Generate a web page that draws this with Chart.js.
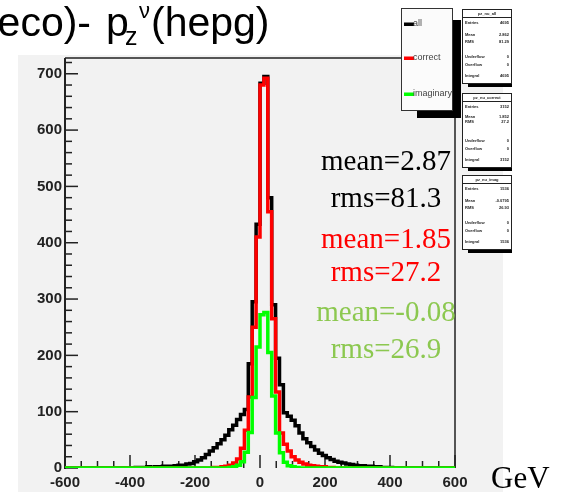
<!DOCTYPE html>
<html>
<head>
<meta charset="utf-8">
<script src="https://cdn.jsdelivr.net/npm/chart.js@4"></script>
<style>
  html, body { margin: 0; padding: 0; background: #fff; }
</style>
</head>
<body>
<canvas id="myChart" width="571" height="492"></canvas>
<script>
// histogram binning: 100 bins of 12 GeV from -600 to 600
const binLow = -600
const binWidth = 12

// counts per bin
const allCounts = [
  0, 0, 0, 0, 0, 0, 0, 0, 0, 0,
  0, 0, 0, 0, 0, 0, 0, 0, 1, 1,
  1, 2, 1, 2, 2, 3, 3, 3, 4, 5,
  5, 7, 8, 11, 14, 18, 24, 30, 36, 43,
  50, 58, 68, 76, 86, 95, 104, 185, 295, 433,
  683, 695, 480, 290, 195, 148, 98, 92, 85, 75,
  62, 52, 45, 38, 32, 26, 22, 18, 15, 12,
  10, 9, 7, 6, 5, 4, 4, 3, 3, 2,
  2, 1, 1, 1, 0, 0, 0, 0, 0, 0,
  0, 0, 0, 0, 0, 0, 0, 0, 0, 0
]
const correctCounts = [
  0, 0, 0, 0, 0, 0, 0, 0, 0, 0,
  0, 0, 0, 0, 0, 0, 0, 0, 0, 0,
  0, 0, 0, 0, 0, 0, 0, 0, 0, 0,
  0, 0, 0, 0, 0, 0, 0, 0, 1, 1,
  2, 3, 5, 9, 16, 35, 67, 126, 250, 410,
  680, 692, 455, 265, 135, 62, 42, 30, 20, 14,
  10, 7, 5, 4, 3, 2, 2, 1, 1, 0,
  0, 0, 0, 0, 0, 0, 0, 0, 0, 0,
  0, 0, 0, 0, 0, 0, 0, 0, 0, 0,
  0, 0, 0, 0, 0, 0, 0, 0, 0, 0
]
const imaginaryCounts = [
  0, 0, 0, 0, 0, 0, 0, 0, 0, 0,
  0, 0, 0, 0, 0, 0, 0, 0, 0, 0,
  0, 0, 0, 0, 0, 0, 0, 0, 0, 0,
  0, 0, 0, 0, 0, 0, 0, 0, 0, 0,
  0, 0, 1, 2, 5, 11, 28, 63, 125, 215,
  272, 276, 205, 128, 62, 27, 10, 4, 2, 1,
  0, 0, 0, 0, 0, 0, 0, 0, 0, 0,
  0, 0, 0, 0, 0, 0, 0, 0, 0, 0,
  0, 0, 0, 0, 0, 0, 0, 0, 0, 0,
  0, 0, 0, 0, 0, 0, 0, 0, 0, 0
]

const seriesNames = ['all', 'correct', 'imaginary']
const seriesColors = ['#000000', '#ff0000', '#00ff00']
const xTickValues = [-600, -400, -200, 0, 200, 400, 600]
const yTickValues = [0, 100, 200, 300, 400, 500, 600, 700]
const meanTexts = ['mean=2.87', 'mean=1.85', 'mean=-0.08']
const rmsTexts = ['rms=81.3', 'rms=27.2', 'rms=26.9']
const textColors = ['#000000', '#ff0000', '#8cc850']

// stat boxes (tiny in the picture)
const statLabels = ['Entries', 'Mean', 'RMS', 'Underflow', 'Overflow', 'Integral']
const statAll = ['4695', '2.862', '81.29', '0', '0', '4695']
const statCorrect = ['3152', '1.852', '27.2', '0', '0', '3152']
const statImaginary = ['1536', '-0.0795', '26.93', '0', '0', '1536']

function toSteps(counts) {
  const pts = counts.map((c, i) => ({ x: binLow + i * binWidth, y: c }))
  pts.push({ x: binLow + counts.length * binWidth, y: counts[counts.length - 1] })
  return pts
}

function histSet(i, counts, order) {
  return {
    label: seriesNames[i],
    data: toSteps(counts),
    borderColor: seriesColors[i],
    borderWidth: 3.5,
    stepped: true,
    pointRadius: 0,
    fill: false,
    borderJoinStyle: 'miter',
    borderCapStyle: 'butt',
    order: order
  }
}

function line(ctx, x1, y1, x2, y2) {
  ctx.beginPath(); ctx.moveTo(x1, y1); ctx.lineTo(x2, y2); ctx.stroke()
}

const rootLook = {
  id: 'rootLook',
  beforeDraw(chart) {
    const ctx = chart.ctx
    ctx.save()
    ctx.fillStyle = '#ffffff'
    ctx.fillRect(0, 0, chart.width, chart.height)
    ctx.fillStyle = '#f2f2f2'
    ctx.fillRect(18, 55, 485, 437)
    ctx.restore()
  },
  beforeDatasetsDraw(chart) {
    const { ctx, chartArea: a, scales: { x, y } } = chart
    ctx.save()
    // frame
    ctx.strokeStyle = '#555'
    ctx.lineWidth = 2
    line(ctx, a.left, a.top, a.right, a.top)
    line(ctx, a.right, a.top, a.right, a.bottom)
    ctx.strokeStyle = '#222'
    line(ctx, a.left, a.top, a.left, a.bottom + 1)
    // ticks inside the frame
    ctx.lineWidth = 1.5
    for (let v = 0; v <= y.max; v += 20) {
      const py = y.getPixelForValue(v)
      line(ctx, a.left, py, a.left + (v % 100 === 0 ? 13 : 7), py)
    }
    for (let v = -600; v <= 600; v += 50) {
      const px = x.getPixelForValue(v)
      line(ctx, px, a.bottom, px, a.bottom - (v % 200 === 0 ? 13 : 7))
    }
    ctx.restore()
  },
  afterDatasetsDraw(chart) {
    const ctx = chart.ctx
    ctx.save()

    // title (cut at the left edge)
    ctx.fillStyle = '#000'
    ctx.textBaseline = 'alphabetic'
    ctx.textAlign = 'right'
    ctx.font = '41px "Liberation Sans"'
    ctx.fillText('eco)-', 91, 36)
    ctx.textAlign = 'left'
    ctx.fillText('p', 106, 36)
    ctx.font = '25px "Liberation Sans"'
    ctx.fillText('z', 125, 45)
    ctx.font = '22px "Liberation Sans"'
    ctx.fillText('\u03bd', 139, 18)
    ctx.font = '41px "Liberation Sans"'
    ctx.fillText('(hepg)', 151, 36)

    // mean / rms texts
    ctx.font = '29px "Liberation Serif"'
    ctx.textAlign = 'center'
    const ys = [[170, 207], [248, 281], [321, 358]]
    for (let i = 0; i < 3; i++) {
      ctx.fillStyle = textColors[i]
      ctx.fillText(meanTexts[i], 386, ys[i][0])
      ctx.fillText(rmsTexts[i], 386, ys[i][1])
    }

    // axis unit
    ctx.fillStyle = '#000'
    ctx.textAlign = 'left'
    ctx.font = '31px "Liberation Serif"'
    ctx.fillText('GeV', 491, 488)

    // legend with shadow
    ctx.fillStyle = '#000'
    ctx.fillRect(452, 20, 9, 98)
    ctx.fillRect(417, 110, 44, 8)
    ctx.fillStyle = '#fbfbfb'
    ctx.fillRect(401, 8, 51, 102)
    ctx.strokeStyle = '#333'
    ctx.lineWidth = 1
    ctx.strokeRect(401.5, 8.5, 51, 102)
    ctx.save()
    ctx.beginPath(); ctx.rect(402, 9, 50, 101); ctx.clip()
    ctx.font = '9px "Liberation Sans"'
    ctx.textBaseline = 'middle'
    const ly = [24, 58, 94]
    for (let i = 0; i < 3; i++) {
      ctx.fillStyle = seriesColors[i]
      ctx.fillRect(404, ly[i] - 1.5, 10, 3.5)
      ctx.fillStyle = '#444'
      ctx.fillText(seriesNames[i], 413, ly[i])
    }
    ctx.restore()

    // stat boxes
    const boxes = [[9, statAll, 'pz_nu_all'], [93, statCorrect, 'pz_nu_correct'], [175, statImaginary, 'pz_nu_imag']]
    for (let b = 0; b < 3; b++) {
      const top = boxes[b][0]
      ctx.fillStyle = '#000'
      ctx.fillRect(468, top + 74, 44, 4)
      ctx.fillStyle = '#fff'
      ctx.fillRect(462, top, 50, 74)
      ctx.strokeStyle = '#222'
      ctx.lineWidth = 1
      ctx.strokeRect(462.5, top + 0.5, 49, 74)
      line(ctx, 462, top + 8.5, 512, top + 8.5)
      ctx.fillStyle = '#222'
      ctx.font = 'bold 4px "Liberation Sans"'
      ctx.textBaseline = 'middle'
      ctx.textAlign = 'center'
      ctx.fillText(boxes[b][2], 487, top + 4.5)
      const rows = [14, 26, 33, 48, 56, 67]
      if (b === 1) { rows[1] = 24; rows[2] = 29 }
      for (let r = 0; r < 6; r++) {
        ctx.textAlign = 'left'
        ctx.fillText(statLabels[r], 465, top + rows[r])
        ctx.textAlign = 'right'
        ctx.fillText(boxes[b][1][r], 509, top + rows[r])
      }
    }
    ctx.restore()
  }
}

const config = {
  type: 'line',
  data: {
    datasets: [
      histSet(2, imaginaryCounts, 0),
      histSet(1, correctCounts, 1),
      histSet(0, allCounts, 2)
    ]
  },
  options: {
    responsive: false,
    animation: false,
    layout: { padding: { left: 18, right: 116, top: 58, bottom: 0 } },
    plugins: { legend: { display: false }, tooltip: { enabled: false } },
    scales: {
      x: {
        type: 'linear',
        min: -600,
        max: 600,
        afterBuildTicks: s => { s.ticks = xTickValues.map(v => ({ value: v })) },
        afterFit: s => { s.height = 24; s.paddingLeft = 0; s.paddingRight = 0 },
        grid: { display: false, drawTicks: false },
        border: { display: false },
        ticks: { color: '#222', padding: 6, maxRotation: 0, font: { family: 'Liberation Sans', size: 15, weight: 'bold' } }
      },
      y: {
        min: 0,
        max: 728,
        afterBuildTicks: s => { s.ticks = yTickValues.map(v => ({ value: v })) },
        afterFit: s => { s.width = 47; s.paddingTop = 0; s.paddingBottom = 0 },
        grid: { display: false, drawTicks: false },
        border: { display: false },
        ticks: { color: '#222', padding: 3, font: { family: 'Liberation Sans', size: 15, weight: 'bold' } }
      }
    }
  },
  plugins: [rootLook]
}

const myChart = new Chart(document.getElementById('myChart'), config)
</script>
</body>
</html>
